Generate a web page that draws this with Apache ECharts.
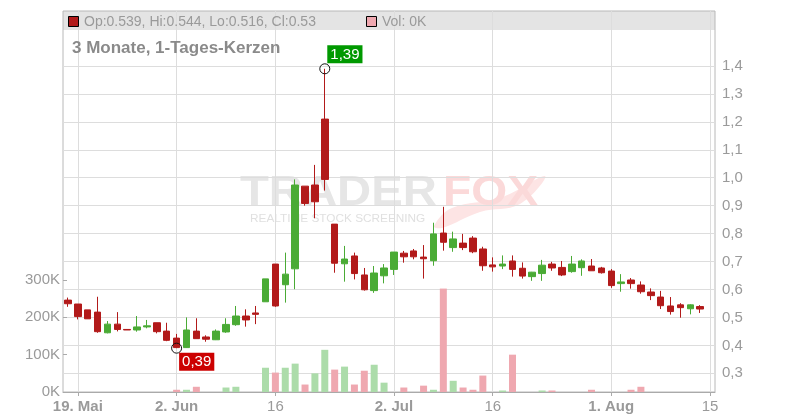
<!DOCTYPE html>
<html><head><meta charset="utf-8">
<script src="https://cdn.jsdelivr.net/npm/echarts@6/dist/echarts.min.js"></script>
<style>html,body{margin:0;padding:0;background:#fff}#c{width:800px;height:420px}</style>
</head><body><div id="c"></div>
<script>
// ---- data ----
const dates = [
 '2025-05-16','2025-05-19','2025-05-20','2025-05-21','2025-05-22','2025-05-23','2025-05-26','2025-05-27','2025-05-28','2025-05-29','2025-05-30',
 '2025-06-02','2025-06-03','2025-06-04','2025-06-05','2025-06-06','2025-06-09','2025-06-10','2025-06-11','2025-06-12','2025-06-13',
 '2025-06-16','2025-06-17','2025-06-18','2025-06-19','2025-06-20','2025-06-23','2025-06-24','2025-06-25','2025-06-26','2025-06-27','2025-06-30',
 '2025-07-01','2025-07-02','2025-07-03','2025-07-04','2025-07-07','2025-07-08','2025-07-09','2025-07-10','2025-07-11','2025-07-14','2025-07-15',
 '2025-07-16','2025-07-17','2025-07-18','2025-07-21','2025-07-22','2025-07-23','2025-07-24','2025-07-25','2025-07-28','2025-07-29','2025-07-30','2025-07-31',
 '2025-08-01','2025-08-04','2025-08-05','2025-08-06','2025-08-07','2025-08-08','2025-08-11','2025-08-12','2025-08-13','2025-08-14','2025-08-15'
];
const opens = [0.562,0.548,0.527,0.519,0.445,0.476,0.457,0.455,0.466,0.481,0.451,
 0.426,0.392,0.451,0.430,0.420,0.448,0.474,0.505,0.516,0.556,
 0.691,0.617,0.674,0.970,0.974,1.210,0.834,0.692,0.720,0.652,0.596,
 0.649,0.672,0.730,0.738,0.716,0.703,0.802,0.750,0.766,0.784,0.745,
 0.688,0.684,0.702,0.676,0.646,0.657,0.691,0.679,0.664,0.678,0.684,0.677,
 0.666,0.621,0.634,0.616,0.591,0.573,0.541,0.545,0.531,0.539];
const closes = [0.549,0.503,0.495,0.449,0.476,0.457,0.455,0.466,0.470,0.449,0.418,
 0.392,0.455,0.424,0.422,0.451,0.475,0.505,0.491,0.511,0.638,
 0.541,0.655,0.974,0.908,0.914,0.994,0.694,0.709,0.657,0.599,0.659,
 0.677,0.734,0.717,0.717,0.710,0.799,0.769,0.781,0.750,0.735,0.685,
 0.681,0.691,0.672,0.648,0.662,0.687,0.677,0.652,0.691,0.702,0.667,0.660,
 0.614,0.627,0.621,0.592,0.578,0.542,0.521,0.535,0.545,0.530];
const lows = [0.538,0.493,0.495,0.445,0.443,0.450,0.455,0.449,0.461,0.443,0.415,
 0.390,0.391,0.424,0.413,0.419,0.445,0.470,0.467,0.476,0.556,
 0.538,0.553,0.601,0.900,0.855,0.954,0.660,0.628,0.636,0.596,0.588,
 0.622,0.652,0.696,0.708,0.639,0.685,0.739,0.735,0.741,0.730,0.667,
 0.664,0.673,0.646,0.639,0.631,0.631,0.667,0.648,0.660,0.649,0.667,0.657,
 0.606,0.592,0.603,0.585,0.562,0.530,0.510,0.499,0.511,0.516];
const highs = [0.571,0.548,0.527,0.574,0.487,0.519,0.457,0.505,0.491,0.481,0.481,
 0.441,0.500,0.497,0.436,0.457,0.497,0.541,0.529,0.541,0.638,
 0.691,0.732,0.994,0.970,1.046,1.390,0.834,0.756,0.732,0.677,0.684,
 0.691,0.734,0.738,0.745,0.759,0.839,0.896,0.807,0.799,0.791,0.753,
 0.715,0.722,0.722,0.697,0.663,0.706,0.699,0.702,0.720,0.708,0.709,0.681,
 0.673,0.655,0.641,0.629,0.604,0.595,0.573,0.551,0.547,0.544];
const volumes = [0,0,0,0,0,0,0,0,0,0,0,
 6000,6000,14000,0,0,12000,14000,0,0,65000,
 52000,65000,76000,20000,50000,113000,60000,68000,20000,57000,73000,
 25000,0,12000,0,17000,6000,277000,30000,12000,6000,44000,
 0,4000,100000,0,0,4000,4000,0,0,0,6000,0,
 0,0,6000,14000,0,0,0,0,0,0];
const tickDates = ['2025-05-19','2025-06-02','2025-06-16','2025-07-02','2025-07-16','2025-08-01','2025-08-15'];
const tickLabels = ['19. Mai','2. Jun','16','2. Jul','16','1. Aug','15'];
const titleText = '3 Monate, 1-Tages-Kerzen';

// ---- styles ----
const FONT = '"Liberation Sans", Arial, sans-serif';
const RED = '#b21a1a', GREEN = '#4aab35';
const VRED = '#efa8b0', VGREEN = '#acdcaa';
const L = 63, R = 85;

const candleData = opens.map((o, i) => [o, closes[i], lows[i], highs[i]]);
const volData = volumes.map((v, i) => {
  const up = i === 0 ? closes[0] >= opens[0] : closes[i] >= closes[i - 1];
  return { value: v, itemStyle: { color: up ? VGREEN : VRED } };
});
const hiIdx = highs.indexOf(Math.max(...highs));
const loIdx = lows.indexOf(Math.min(...lows));
const fmtDE = p => Number(p.value).toFixed(2).replace('.', ',');
const isTick = (i, v) => tickDates.indexOf(v) >= 0;
const n = opens.length - 1;
const legendText = 'Op:' + opens[n] + ', Hi:' + highs[n] + ', Lo:' + lows[n] + ', Cl:' + closes[n];
const volText = 'Vol: ' + Math.round(volumes[n] / 1000) + 'K';

// price axis pixel mapping: 0.3 -> y 373.3, 1.4 -> y 66
const pxPer = (373.3 - 66) / 11;
const priceTop = 66 - 2 * pxPer;          // 1.6
const priceBottom = 420 - (373.3 + pxPer); // 0.2
const splitColors = [];
for (let k = 0; k <= 14; k++) splitColors.push(k >= 1 && k <= 12 ? '#dddddd' : 'rgba(0,0,0,0)');

const chart = echarts.init(document.getElementById('c'), null, { renderer: 'canvas' });
chart.setOption({
  animation: false,
  backgroundColor: '#fff',
  textStyle: { fontFamily: FONT },
  grid: [
    { left: L, right: R, top: priceTop, bottom: priceBottom },
    { left: L, right: R, top: 280, bottom: 28 },
    { left: L, right: R, top: 11, bottom: 28, show: true, borderColor: '#b8b8b8', borderWidth: 1, backgroundColor: 'rgba(0,0,0,0)' }
  ],
  xAxis: [
    { type: 'category', gridIndex: 0, data: dates, boundaryGap: true, show: false },
    { type: 'category', gridIndex: 1, data: dates, boundaryGap: true, show: false },
    { type: 'category', gridIndex: 2, data: dates, boundaryGap: true,
      axisLine: { show: true, lineStyle: { color: '#aaaaaa' } },
      axisTick: { show: true, alignWithLabel: true, interval: isTick, length: 4, lineStyle: { color: '#aaaaaa' } },
      axisLabel: { interval: isTick, margin: 7,
        formatter: v => { const t = tickLabels[tickDates.indexOf(v)]; return /[A-Za-z]/.test(t) ? '{b|' + t + '}' : '{n|' + t + '}'; },
        rich: { b: { fontWeight: 'bold', fontSize: 15, color: '#9a9a9a', fontFamily: FONT },
                n: { fontSize: 15, color: '#9a9a9a', fontFamily: FONT } } },
      splitLine: { show: true, interval: isTick, alignWithLabel: true, lineStyle: { color: '#dddddd' } } }
  ],
  yAxis: [
    { type: 'value', gridIndex: 0, position: 'right', min: 0.2, max: 1.6, interval: 0.1,
      axisLine: { show: false }, axisTick: { show: false },
      axisLabel: { margin: 7, color: '#9a9a9a', fontSize: 15, fontFamily: FONT,
        formatter: v => (v < 0.25 || v > 1.45) ? '' : v.toFixed(1).replace('.', ',') },
      splitLine: { show: true, lineStyle: { color: splitColors } } },
    { type: 'value', gridIndex: 1, position: 'left', min: 0, max: 300000, interval: 100000,
      axisLine: { show: false },
      axisTick: { show: true, inside: true, length: 4, lineStyle: { color: '#aaaaaa' } },
      axisLabel: { margin: 3, color: '#9a9a9a', fontSize: 15, fontFamily: FONT, formatter: v => (v / 1000) + 'K' },
      splitLine: { show: false } },
    { type: 'value', gridIndex: 2, show: false }
  ],
  graphic: [
    { type: 'rect', z: -10, shape: { x: L, y: 11, width: 800 - L - R, height: 19 }, style: { fill: '#e4e4e4' } },
    { type: 'polygon', z: -9, shape: { points: [[434, 226], [452, 208], [500, 198], [545, 176], [520, 204], [480, 212], [442, 228]], smooth: 0.4 },
      style: { fill: '#fde4e4' } },
    { type: 'text', z: -9, x: 240, y: 193, scaleX: 1.125,
      style: { text: 'TRADER', font: 'bold 42px ' + FONT, fill: '#e6e6e6', verticalAlign: 'middle', align: 'left' } },
    { type: 'text', z: -9, x: 443, y: 193, scaleX: 1.1,
      style: { text: 'FOX', font: 'bold 42px ' + FONT, fill: '#fbd9d9', verticalAlign: 'middle', align: 'left' } },
    { type: 'text', z: -9, x: 250, y: 219, scaleX: 1.18,
      style: { text: 'REALTIME STOCK SCREENING', font: '10px ' + FONT, fill: '#e0e0e0', verticalAlign: 'middle', align: 'left' } },
    { type: 'rect', z: 5, shape: { x: 68.5, y: 16.5, width: 10, height: 10 }, style: { fill: RED, stroke: '#000', lineWidth: 1 } },
    { type: 'text', z: 5, x: 84, y: 22,
      style: { text: legendText, font: '14px ' + FONT, fill: '#9a9a9a', verticalAlign: 'middle', align: 'left' } },
    { type: 'rect', z: 5, shape: { x: 366.5, y: 16.5, width: 10, height: 10 }, style: { fill: VRED, stroke: '#000', lineWidth: 1 } },
    { type: 'text', z: 5, x: 382, y: 22,
      style: { text: volText, font: '14px ' + FONT, fill: '#9a9a9a', verticalAlign: 'middle', align: 'left' } },
    { type: 'text', z: 5, x: 72, y: 48,
      style: { text: titleText, font: 'bold 17px ' + FONT, fill: '#8a8a8a', verticalAlign: 'middle', align: 'left' } }
  ],
  series: [
    { type: 'bar', xAxisIndex: 1, yAxisIndex: 1, data: volData, barWidth: 7 },
    { type: 'candlestick', xAxisIndex: 0, yAxisIndex: 0, data: candleData, barWidth: 7,
      itemStyle: { color: GREEN, color0: RED, borderColor: GREEN, borderColor0: RED, borderWidth: 1 },
      markPoint: {
        symbol: 'circle', symbolSize: 10,
        itemStyle: { color: 'rgba(255,255,255,0)', borderColor: '#111', borderWidth: 1 },
        label: { show: true, color: '#fff', fontSize: 15, fontFamily: FONT, padding: [1, 3, 0, 3], lineHeight: 17, align: 'left', verticalAlign: 'top' },
        data: [
          { coord: [dates[hiIdx], highs[hiIdx]], value: highs[hiIdx],
            label: { position: [8, -18], backgroundColor: '#009900', formatter: fmtDE } },
          { coord: [dates[loIdx], lows[loIdx]], value: lows[loIdx],
            label: { position: [8, 10], backgroundColor: '#cc0000', formatter: fmtDE } }
        ]
      } }
  ]
});
</script></body></html>
